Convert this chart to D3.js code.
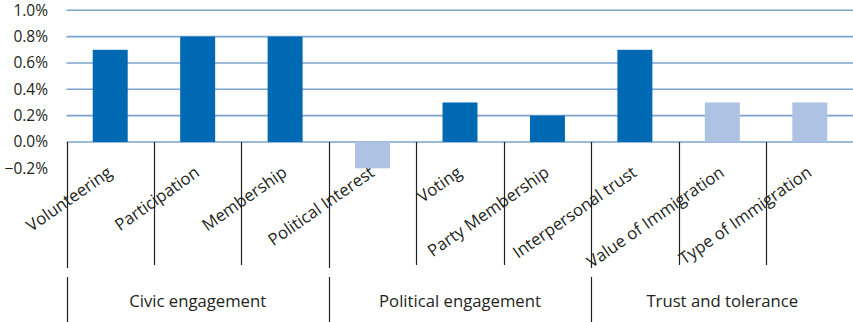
<!DOCTYPE html>
<html>
<head>
<meta charset="utf-8">
<script src="https://cdn.jsdelivr.net/npm/d3@7/dist/d3.min.js"></script>
<style>
  html, body { margin: 0; padding: 0; background: #fff; }
  svg { display: block; }
  text { font-family: "Open Sans", "Noto Sans", sans-serif; fill: #231f20; }
</style>
</head>
<body>
<svg id="chart" width="853" height="322"></svg>
<script>
// Indicators, their effect sizes and whether each is significant
const categories = ["Volunteering", "Participation", "Membership", "Political Interest", "Voting",
                    "Party Membership", "Interpersonal trust", "Value of Immigration", "Type of Immigration"];
const values = [0.7, 0.8, 0.8, -0.2, 0.3, 0.2, 0.7, 0.3, 0.3];
const significant = [true, true, true, false, true, true, true, false, false];
const groups = ["Civic engagement", "Political engagement", "Trust and tolerance"];
const groupSizes = [3, 3, 3];
const yTicks = [-0.2, 0, 0.2, 0.4, 0.6, 0.8, 1.0];

const svg = d3.select("#chart");

const left = 66.5, right = 853.5;
const x = d3.scaleBand().domain(categories).range([left, right]).paddingInner(0.6).paddingOuter(0.3);
const y = d3.scaleLinear().domain([-0.2, 1.0]).range([168.3, 10.3]);
const step = x.step();

// Horizontal gridlines
svg.append("g").selectAll("line").data(yTicks.filter(t => t >= 0)).join("line")
  .attr("x1", left).attr("x2", right)
  .attr("y1", d => y(d)).attr("y2", d => y(d))
  .attr("stroke", "#7ba3cf").attr("stroke-width", 1.6);

// Y axis labels
const yAxis = d3.axisLeft(y).tickValues(yTicks).tickSize(0).tickPadding(0)
  .tickFormat(d => d3.format(".1f")(d) + "%");
svg.append("g").attr("transform", "translate(48,0)").call(yAxis)
  .call(g => g.select(".domain").remove())
  .call(g => g.selectAll("text").attr("font-size", 15.5).attr("fill", "#231f20")
    .attr("font-family", "'Open Sans', sans-serif"));

// Bars
svg.append("g").selectAll("rect").data(categories).join("rect")
  .attr("x", d => x(d))
  .attr("width", x.bandwidth())
  .attr("y", (d, i) => y(Math.max(0, values[i])))
  .attr("height", (d, i) => Math.abs(y(values[i]) - y(0)))
  .attr("fill", (d, i) => significant[i] ? "#0069b4" : "#aec3e3");

// Category dividers
const boundaries = new Set([0]);
let acc = 0;
groupSizes.forEach(n => { acc += n; boundaries.add(acc); });
const dividerIdx = d3.range(categories.length);
svg.append("g").selectAll("line").data(dividerIdx).join("line")
  .attr("x1", i => Math.round(left + i * step) + 0.5)
  .attr("x2", i => Math.round(left + i * step) + 0.5)
  .attr("y1", y(0))
  .attr("y2", i => boundaries.has(i) ? 268 : 265)
  .attr("stroke", "#231f20").attr("stroke-width", 1.2);

// Category labels
svg.append("g").selectAll("text").data(categories).join("text")
  .attr("transform", d => `translate(${x(d) + x.bandwidth() / 2 + 3},${175}) rotate(-35)`)
  .attr("text-anchor", "end")
  .attr("font-size", 16.7)
  .text(d => d);

// Group separators and labels
let start = 0;
groups.forEach((g, gi) => {
  const x0 = left + start * step;
  const x1 = left + (start + groupSizes[gi]) * step;
  svg.append("line")
    .attr("x1", Math.round(x0) + 0.5).attr("x2", Math.round(x0) + 0.5)
    .attr("y1", 277).attr("y2", 322)
    .attr("stroke", "#231f20").attr("stroke-width", 1.2);
  svg.append("text")
    .attr("x", (x0 + x1) / 2).attr("y", 306.5)
    .attr("text-anchor", "middle")
    .attr("font-size", 16.7)
    .text(g);
  start += groupSizes[gi];
});
</script>
</body>
</html>
